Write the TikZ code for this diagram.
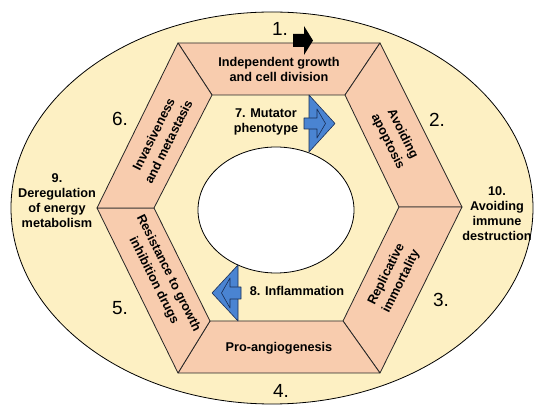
\documentclass[tikz,border=0pt]{standalone}
\usepackage{fontspec}
\setmainfont{Liberation Sans}
\usepackage{tikz}
\usetikzlibrary{positioning}
\definecolor{paleyellow}{RGB}{253,240,195}
\definecolor{peach}{RGB}{248,204,174}
\definecolor{arrowblue}{RGB}{74,132,210}
\definecolor{arrowedge}{RGB}{25,45,85}

\tikzset{
  panel/.style={draw=black!85, line width=0.8pt, fill=peach, line join=round},
  hallmark/.style={font=\fontsize{12.7}{15}\selectfont\bfseries, align=center, inner sep=0pt},
  slanted/.style={hallmark, font=\fontsize{12.7}{16.5}\selectfont\bfseries},
  numlabel/.style={font=\fontsize{19}{21}\selectfont, inner sep=0pt},
  bluearrow/.style={draw=arrowedge, line width=0.6pt, fill=arrowblue, line join=round},
}

\begin{document}
\begin{tikzpicture}[x=1pt, y=-1pt]
  \useasboundingbox (0,0) rectangle (550,419);
  % outer ring
  \draw[fill=paleyellow, line width=0.8pt] (272,208) ellipse [x radius=261pt, y radius=196pt];

  % hexagon corners, outer and inner
  \coordinate (o1) at (178,43);  \coordinate (i1) at (212,95);
  \coordinate (o2) at (380,43);  \coordinate (i2) at (345,95);
  \coordinate (o3) at (462,207); \coordinate (i3) at (399,207);
  \coordinate (o4) at (380,373); \coordinate (i4) at (343,321);
  \coordinate (o5) at (178,373); \coordinate (i5) at (210,321);
  \coordinate (o6) at (97,208);  \coordinate (i6) at (154,208);

  % six hallmark panels
  \draw[panel] (o1) -- (o2) -- (i2) -- (i1) -- cycle;
  \draw[panel] (o2) -- (o3) -- (i3) -- (i2) -- cycle;
  \draw[panel] (o3) -- (o4) -- (i4) -- (i3) -- cycle;
  \draw[panel] (o4) -- (o5) -- (i5) -- (i4) -- cycle;
  \draw[panel] (o5) -- (o6) -- (i6) -- (i5) -- cycle;
  \draw[panel] (o6) -- (o1) -- (i1) -- (i6) -- cycle;

  % white centre
  \draw[fill=white, line width=0.8pt] (276,210) ellipse [x radius=78pt, y radius=63pt];

  % blue arrows
  \draw[bluearrow] (309,95) -- (335,123.5) -- (309,152) -- cycle;
  \draw[bluearrow] (304,118) -- (317,118) -- (317,109) -- (325.5,123.5)
                   -- (317,138) -- (317,129) -- (304,129) -- cycle;
  \draw[bluearrow] (238,265) -- (212,293) -- (238,321) -- cycle;
  \draw[bluearrow] (241,287) -- (230,287) -- (230,278) -- (221.5,293)
                   -- (230,308) -- (230,299) -- (241,299) -- cycle;

  % black arrow at the top
  \fill[black] (293,34) -- (304,34) -- (304,26) -- (313,40.5)
               -- (304,55) -- (304,47) -- (293,47) -- cycle;

  % panel texts
  \node[hallmark] (growth) at (279,69) {Independent growth\\and cell division};
  \node[slanted, rotate=-63.4] (apoptosis) at (395,138) {Avoiding\\apoptosis};
  \node[slanted, rotate=63.4] (immortal) at (394,278) {Replicative\\immortality};
  \node[hallmark] (angio) at (279,348) {Pro-angiogenesis};
  \node[slanted, rotate=-63.4] (resist) at (161,277) {Resistance to growth\\inhibition drugs};
  \node[slanted, rotate=63.4] (invasion) at (161,138) {Invasiveness\\and metastasis};

  % inner and outer texts
  \node[hallmark] (mutator) at (266,122) {7. Mutator\\phenotype};
  \node[hallmark] (inflam) at (297,291) {8. Inflammation};
  \node[hallmark] (energy) at (57,201) {9.\\Deregulation\\of energy\\metabolism};
  \node[hallmark] (immune) at (497,214) {10.\\Avoiding\\immune\\destruction};

  % numbers
  \node[numlabel] (n1) at (280,29) {1.};
  \node[numlabel] (n2) at (437,119.5) {2.};
  \node[numlabel] (n3) at (441,300) {3.};
  \node[numlabel] (n4) at (281,391) {4.};
  \node[numlabel] (n5) at (120,308) {5.};
  \node[numlabel] (n6) at (120,119) {6.};
\end{tikzpicture}
\end{document}
